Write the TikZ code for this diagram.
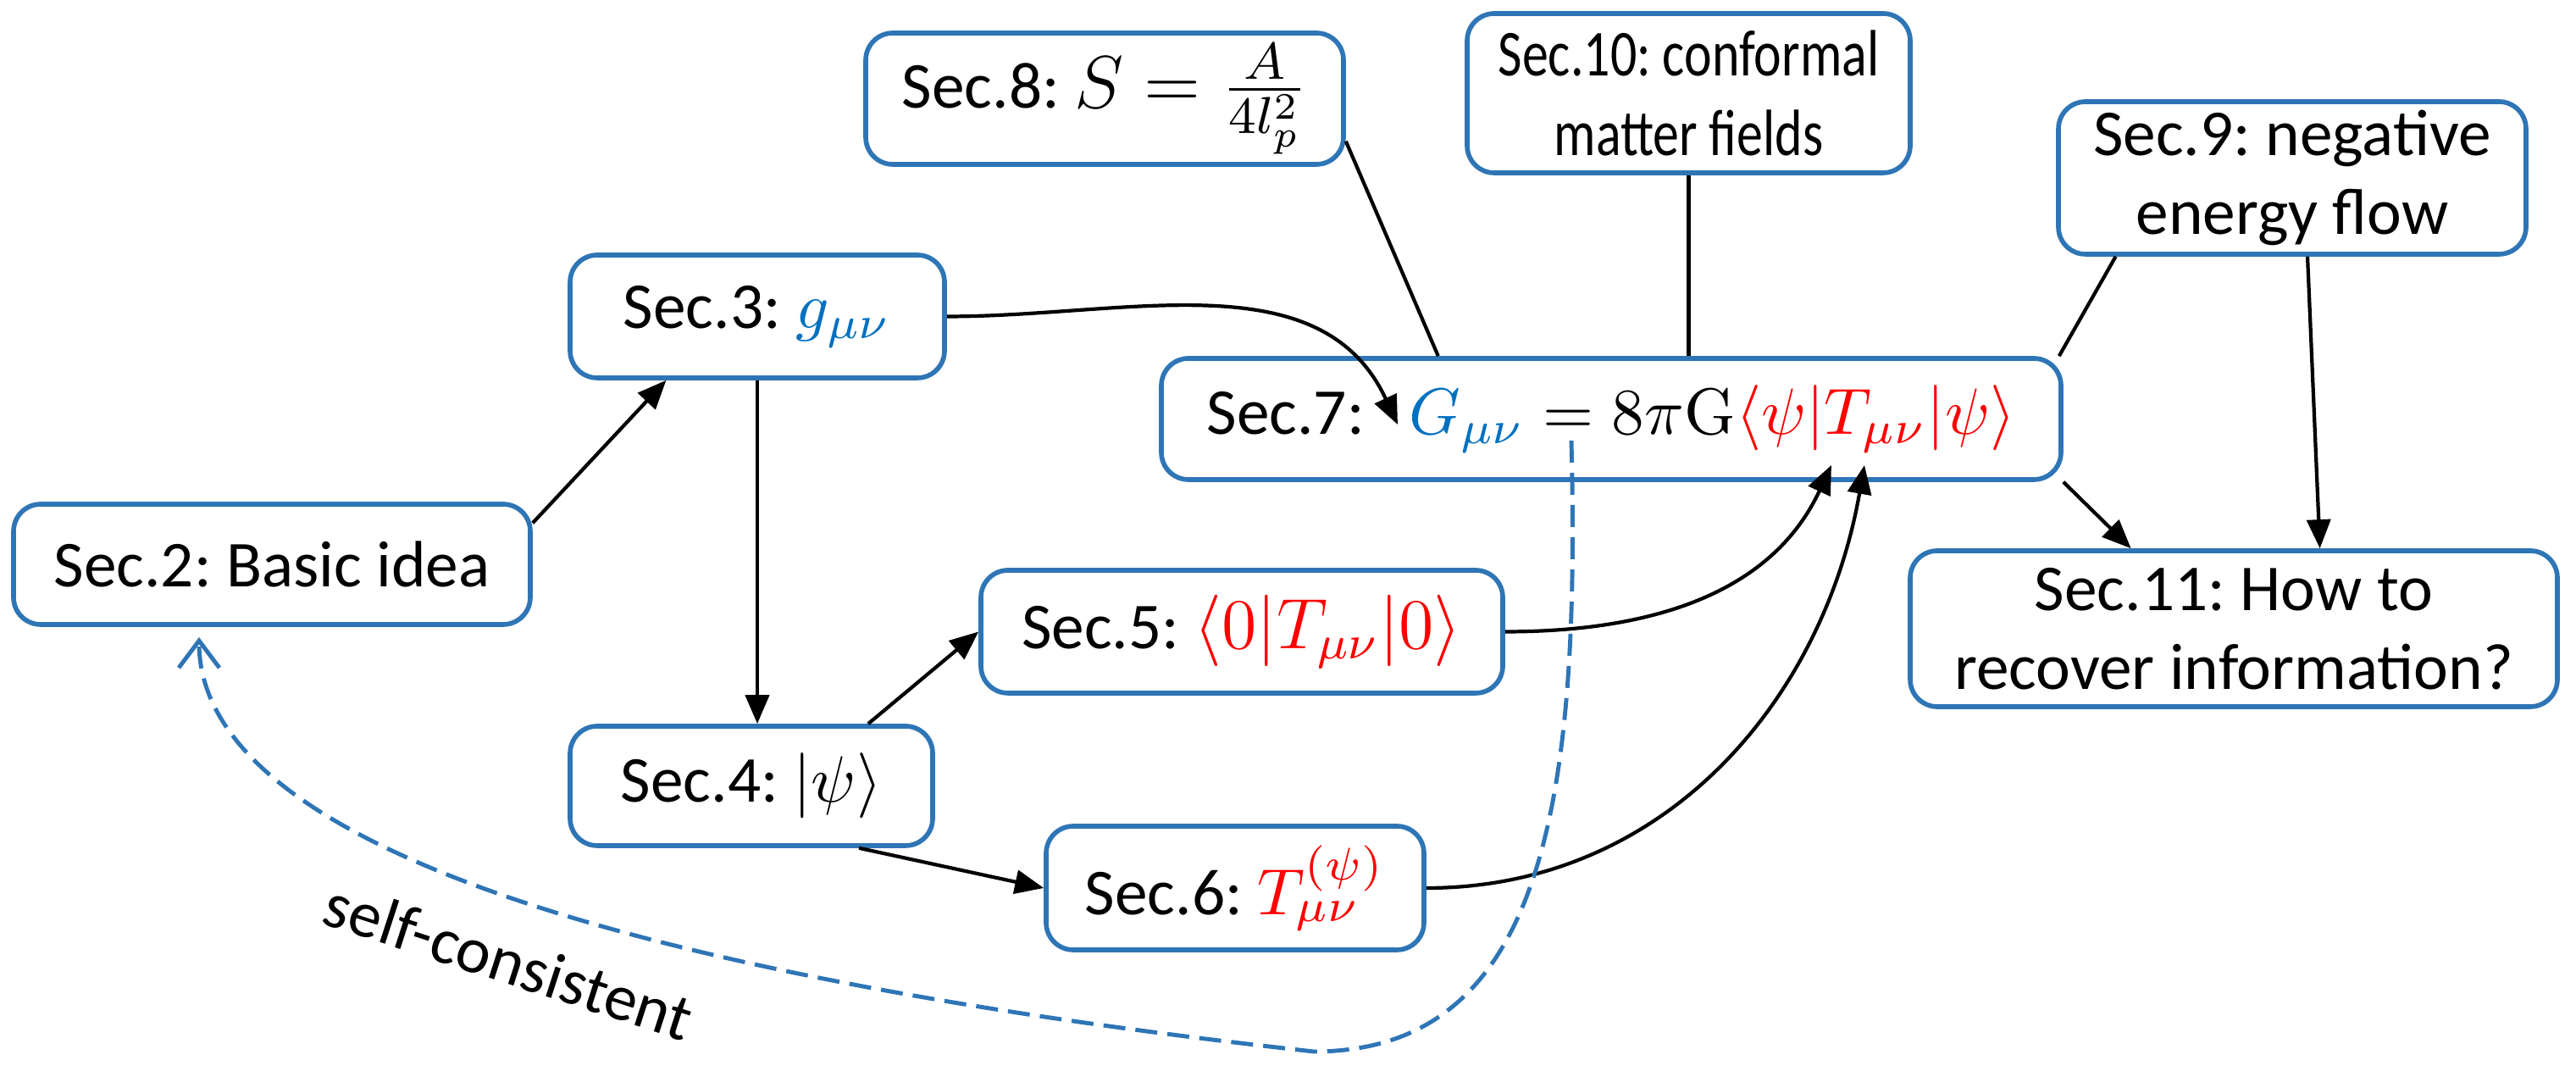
\RequirePackage{fix-cm}
\documentclass[tikz,border=0pt]{standalone}
\usepackage[no-math]{fontspec}
\setmainfont{Carlito}
\newfontfamily\narrowfont[FakeStretch=0.8]{Carlito}
\usepackage{tikz}
\usetikzlibrary{arrows.meta}
\definecolor{boxblue}{RGB}{46,117,182}
\definecolor{eqblue}{RGB}{0,112,192}
\definecolor{eqred}{RGB}{255,0,0}
\tikzset{
	secbox/.style={draw=boxblue, line width=0.8pt, rounded corners=1.6mm, fill=white, align=center, inner xsep=2pt, inner ysep=1pt, font=\fontsize{11}{13.3}\selectfont},
	flow/.style={line width=0.6pt, -{Triangle[length=1.7mm,width=1.4mm]}},
	link/.style={line width=0.6pt},
	loopback/.style={draw=boxblue, line width=0.7pt, dash pattern=on 1.3mm off 0.6mm, -{Straight Barb[length=1.6mm,width=2.4mm]}},
}
\frenchspacing

\begin{document}
\begin{tikzpicture}
			%%%%% START %%%%%
			\useasboundingbox (0, 0) rectangle (15.205, 6.355);
			
			\node[secbox, minimum width=3.05cm, minimum height=0.71cm] (s2) at (1.605, 3.025) {Sec.2: Basic idea};
			\node[secbox, minimum width=2.21cm, minimum height=0.725cm] (s3) at (4.47, 4.4875) {Sec.3: $\textcolor{eqblue}{g_{\mu\nu}}$};
			\node[secbox, minimum width=2.14cm, minimum height=0.705cm] (s4) at (4.435, 1.7175) {Sec.4: $|\psi\rangle$};
			\node[secbox, minimum width=3.08cm, minimum height=0.725cm] (s5) at (7.33, 2.6275) {Sec.5: {\fontsize{12}{14}\selectfont$\textcolor{eqred}{\langle 0|T_{\mu\nu}|0\rangle}$}};
			\node[secbox, minimum width=2.23cm, minimum height=0.73cm] (s6) at (7.29, 1.115) {Sec.6: $\textcolor{eqred}{T_{\mu\nu}^{(\psi)}}$};
			\node[secbox, minimum width=5.31cm, minimum height=0.715cm] (s7) at (9.51, 3.8825) {Sec.7:~~ $\textcolor{eqblue}{G_{\mu\nu}} = 8\pi\mathrm{G}\textcolor{eqred}{\langle\psi|T_{\mu\nu}|\psi\rangle}$};
			\node[secbox, minimum width=2.82cm, minimum height=0.775cm] (s8) at (6.52, 5.7725) {Sec.8: {\fontsize{12.5}{14}\selectfont$S=\frac{A}{4l_p^2}$}};
			\node[secbox, minimum width=2.615cm, minimum height=0.94cm, font=\fontsize{11}{13.3}\narrowfont] (s10) at (9.9675, 5.805) {Sec.10: conformal\\matter fields};
			\node[secbox, minimum width=2.76cm, minimum height=0.9cm] (s9) at (13.53, 5.305) {Sec.9: negative\\energy flow};
			\node[secbox, minimum width=3.82cm, minimum height=0.92cm] (s11) at (13.185, 2.645) {Sec.11: How to\\recover information?};
			
			\coordinate (gtip) at (8.25, 3.85);
			\coordinate (ttipa) at (10.81, 3.61);
			\coordinate (ttipb) at (11.005, 3.61);
			\coordinate (eqmark) at (9.275, 3.755);
			\coordinate (loopbottom) at (7.755, 0.15);
			\coordinate (loopend) at (1.175, 2.595);
			
			\draw[flow] (s2.9) -- (s3.215);
			\draw[flow] (s3.east) to[out=0, in=115] (gtip);
			\draw[flow] (s3.south) -- (s3.south |- s4.north);
			\draw[flow] (s4.28) -- (s5.west);
			\draw[flow] (s4.-30) -- (s6.west);
			\draw[flow] (s5.east) to[out=0, in=-115] (ttipa);
			\draw[flow] (s6.east) to[out=0, in=-100] (ttipb);
			
			\draw[link] (s8.-10) -- (s7.160);
			\draw[link] (s10.south) -- (s10.south |- s7.north);
			\draw[link] (s9.204) -- (s7.8);
			\draw[flow] (s9.-79) -- (s11.43);
			\draw[flow] (s7.south east) -- (s11.142);
			
			\draw[loopback] (eqmark) .. controls (9.33, 1.6) and (9.1, 0.15) .. (loopbottom) .. controls (5.0, 0.455) and (1.175, 1.105) .. (loopend);
			\node[rotate=-18, font=\fontsize{11}{13.3}\selectfont] (selfcons) at (3.005, 0.685) {self-consistent};
			
			%%%%% END %%%%%
\end{tikzpicture}
\end{document}
